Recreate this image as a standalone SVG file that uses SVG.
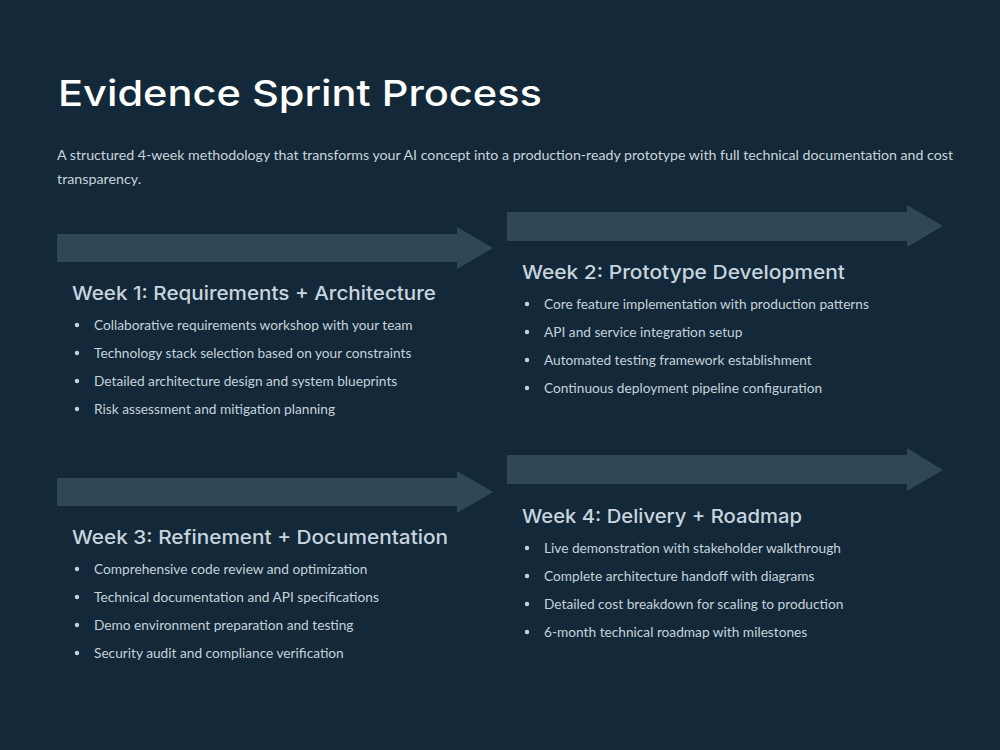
<svg xmlns="http://www.w3.org/2000/svg" width="1000" height="750" viewBox="0 0 1000 750">
<style>
.title{font-family:Inter,"Liberation Sans",sans-serif;font-weight:500;font-size:36px;fill:#ffffff}
.sub{font-family:Lato,"Liberation Sans",sans-serif;font-size:14.3px;fill:#c9d4dc}
.arrow{fill:#2f4757}
.head{font-family:Inter,"Liberation Sans",sans-serif;font-weight:500;font-size:19px;fill:#c8d5df}
.item{font-family:Lato,"Liberation Sans",sans-serif;font-size:13.7px;fill:#c6d2db}
.dot{fill:#c6d2db}
</style>
<rect width="1000" height="750" fill="#132838"/>
<text class="title" x="58" y="106" textLength="484" lengthAdjust="spacingAndGlyphs">Evidence Sprint Process</text>
<text class="sub" x="57" y="160" textLength="896" lengthAdjust="spacingAndGlyphs">A structured 4-week methodology that transforms your AI concept into a production-ready prototype with full technical documentation and cost</text>
<text class="sub" x="57" y="184">transparency.</text>
<g id="connectors">
<polygon class="arrow" points="57,234 457,234 457,227 493,248 457,269 457,262 57,262"/>
<polygon class="arrow" points="507,212 907,212 907,205 943,226 907,247 907,241 507,241"/>
<polygon class="arrow" points="57,478 457,478 457,471 493,492 457,513 457,506 57,506"/>
<polygon class="arrow" points="507,455 907,455 907,448 943,470 907,491 907,484 507,484"/>
</g>
<g id="week1">
<text class="head" x="72" y="300" textLength="364" lengthAdjust="spacingAndGlyphs">Week 1: Requirements + Architecture</text>
<circle class="dot" cx="77" cy="325" r="2.2"/><text class="item" x="94" y="330">Collaborative requirements workshop with your team</text>
<circle class="dot" cx="77" cy="353" r="2.2"/><text class="item" x="94" y="358">Technology stack selection based on your constraints</text>
<circle class="dot" cx="77" cy="381" r="2.2"/><text class="item" x="94" y="386">Detailed architecture design and system blueprints</text>
<circle class="dot" cx="77" cy="409" r="2.2"/><text class="item" x="94" y="414">Risk assessment and mitigation planning</text>
</g>
<g id="week2">
<text class="head" x="522" y="279" textLength="323" lengthAdjust="spacingAndGlyphs">Week 2: Prototype Development</text>
<circle class="dot" cx="527" cy="304" r="2.2"/><text class="item" x="544" y="309">Core feature implementation with production patterns</text>
<circle class="dot" cx="527" cy="332" r="2.2"/><text class="item" x="544" y="337">API and service integration setup</text>
<circle class="dot" cx="527" cy="360" r="2.2"/><text class="item" x="544" y="365">Automated testing framework establishment</text>
<circle class="dot" cx="527" cy="388" r="2.2"/><text class="item" x="544" y="393">Continuous deployment pipeline configuration</text>
</g>
<g id="week3">
<text class="head" x="72" y="544" textLength="376" lengthAdjust="spacingAndGlyphs">Week 3: Refinement + Documentation</text>
<circle class="dot" cx="77" cy="569" r="2.2"/><text class="item" x="94" y="574">Comprehensive code review and optimization</text>
<circle class="dot" cx="77" cy="597" r="2.2"/><text class="item" x="94" y="602">Technical documentation and API specifications</text>
<circle class="dot" cx="77" cy="625" r="2.2"/><text class="item" x="94" y="630">Demo environment preparation and testing</text>
<circle class="dot" cx="77" cy="653" r="2.2"/><text class="item" x="94" y="658">Security audit and compliance verification</text>
</g>
<g id="week4">
<text class="head" x="522" y="523" textLength="280" lengthAdjust="spacingAndGlyphs">Week 4: Delivery + Roadmap</text>
<circle class="dot" cx="527" cy="548" r="2.2"/><text class="item" x="544" y="553">Live demonstration with stakeholder walkthrough</text>
<circle class="dot" cx="527" cy="576" r="2.2"/><text class="item" x="544" y="581">Complete architecture handoff with diagrams</text>
<circle class="dot" cx="527" cy="604" r="2.2"/><text class="item" x="544" y="609">Detailed cost breakdown for scaling to production</text>
<circle class="dot" cx="527" cy="632" r="2.2"/><text class="item" x="544" y="637">6-month technical roadmap with milestones</text>
</g>
</svg>
